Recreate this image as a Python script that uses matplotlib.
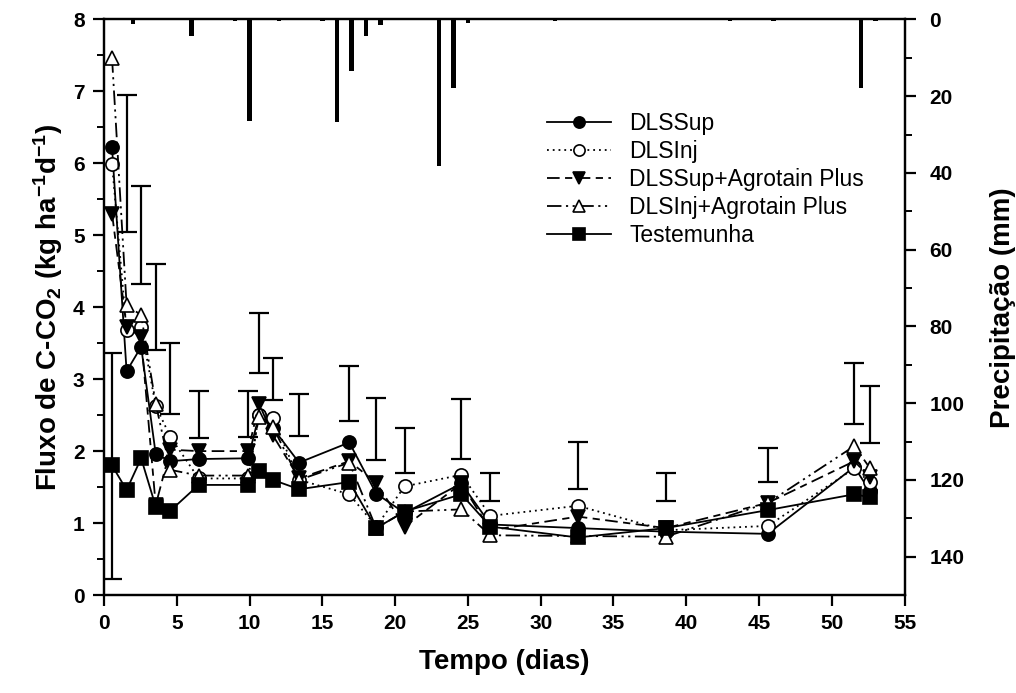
import matplotlib
matplotlib.use("Agg")
import matplotlib.pyplot as plt
import numpy as np

plt.rcParams['font.family'] = ['Liberation Sans', 'DejaVu Sans']
plt.rcParams['mathtext.fontset'] = 'custom'
plt.rcParams['mathtext.rm'] = 'Liberation Sans:bold'
plt.rcParams['mathtext.bf'] = 'Liberation Sans:bold'
plt.rcParams['mathtext.it'] = 'Liberation Sans:bold'

# Sampling days
dias = [0.55, 1.55, 2.55, 3.55, 4.55, 6.5, 9.9, 10.65, 11.6, 13.4,
        16.85, 18.7, 20.65, 24.55, 26.55, 32.55, 38.6, 45.6, 51.55, 52.6]

# C-CO2 flux per treatment (kg ha-1 d-1)
dls_sup = [6.22, 3.11, 3.45, 1.96, 1.86, 1.89, 1.90, 2.50, 2.32, 1.84,
           2.12, 1.41, 1.14, 1.55, 0.98, 0.93, 0.88, 0.85, 1.78, 1.45]
dls_inj = [5.99, 3.68, 3.72, 2.63, 2.20, 1.62, 1.62, 2.50, 2.46, 1.60,
           1.40, 0.95, 1.51, 1.67, 1.10, 1.24, 0.90, 0.96, 1.76, 1.57]
dls_sup_ap = [5.30, 3.73, 3.58, 1.25, 2.02, 2.00, 2.00, 2.66, 2.22, 1.62,
              1.86, 1.56, 0.95, 1.55, 0.90, 1.09, 0.93, 1.28, 1.86, 1.64]
dls_inj_ap = [7.46, 4.03, 3.89, 2.66, 1.74, 1.66, 1.66, 2.48, 2.34, 1.60,
              1.84, 0.93, 1.16, 1.19, 0.83, 0.82, 0.81, 1.28, 2.07, 1.77]
testemunha = [1.80, 1.46, 1.90, 1.23, 1.17, 1.53, 1.53, 1.72, 1.60, 1.47,
              1.57, 0.93, 1.16, 1.40, 0.95, 0.80, 0.93, 1.18, 1.40, 1.36]

# Least significant difference bars (lower and upper ends)
lsd_inf = [0.22, 5.05, 4.32, 3.41, 2.52, 2.18, 2.19, 3.09, 2.71, 2.21,
           2.42, 1.87, 1.69, 1.89, 1.30, 1.47, 1.31, 1.57, 2.38, 2.11]
lsd_sup = [3.37, 6.95, 5.69, 4.60, 3.50, 2.84, 2.84, 3.92, 3.30, 2.79,
           3.18, 2.74, 2.32, 2.72, 1.70, 2.13, 1.69, 2.04, 3.22, 2.90]

# Daily rainfall (mm)
chuva_dias = [2, 6, 9, 10, 12, 15, 16, 17, 18, 19, 23, 24, 25, 31, 43, 46, 52, 53]
chuva_mm = [1.2, 4.3, 0.5, 26.5, 0.3, 0.3, 26.7, 13.5, 4.3, 1.5, 38.2, 18.0,
            0.9, 0.3, 0.3, 0.3, 17.8, 0.5]

fig = plt.figure(figsize=(10.16, 6.93), dpi=100)
ax = fig.add_axes([0.1024, 0.1414, 0.7879, 0.8306])
ax2 = ax.twinx()

# Rainfall bars hanging from the top axis
ax2.bar(chuva_dias, chuva_mm, width=0.3, color='black', align='center')
ax2.set_ylim(150, 0)
ax2.set_yticks(np.arange(0, 141, 20))
ax2.set_yticks(np.arange(10, 150, 20), minor=True)
ax2.set_ylabel('Precipitação (mm)', fontsize=20, fontweight='bold', labelpad=18)

# LSD bars
lo = np.array(lsd_inf)
hi = np.array(lsd_sup)
mid = (lo + hi) / 2
ax.errorbar(dias, mid, yerr=(hi - lo) / 2, fmt='none', ecolor='black',
            elinewidth=1.6, capsize=7, capthick=1.6, zorder=2)

ms = 9.5
series = [
    (dls_sup, 'DLSSup', dict(ls='-', marker='o', mfc='black')),
    (dls_inj, 'DLSInj', dict(ls=(0, (1, 2.2)), marker='o', mfc='white')),
    (dls_sup_ap, 'DLSSup+Agrotain Plus', dict(ls=(0, (7, 3, 4, 3)), marker='v', mfc='black')),
    (dls_inj_ap, 'DLSInj+Agrotain Plus', dict(ls=(0, (8, 2.5, 1.2, 2.5, 1.2, 2.5)), marker='^', mfc='white')),
    (testemunha, 'Testemunha', dict(ls='-', marker='s', mfc='black')),
]
handles = []
for vals, nome, st in series:
    h, = ax.plot(dias, vals, color='black', lw=1.3, ms=ms, mec='black',
                 mew=1.2, label=nome, zorder=3, **st)
    handles.append(h)

ax.set_xlim(0, 55)
ax.set_ylim(0, 8)
ax.set_xticks(np.arange(0, 56, 5))
ax.set_yticks(np.arange(0, 9, 1))
ax.set_yticks(np.arange(0.5, 8, 1), minor=True)
ax.set_xlabel('Tempo (dias)', fontsize=20, fontweight='bold', labelpad=11)
ax.set_ylabel(r'Fluxo de C-CO$_{2}$ (kg ha$^{-1}$d$^{-1}$)', fontsize=20,
              fontweight='bold', labelpad=6)

for a in (ax, ax2):
    for s in a.spines.values():
        s.set_linewidth(1.6)
    a.tick_params(which='major', direction='out', length=8, width=1.6,
                  labelsize=15, pad=6)
    a.tick_params(which='minor', direction='out', length=5, width=1.4)
    for lab in a.get_xticklabels() + a.get_yticklabels():
        lab.set_fontweight('bold')
ax.tick_params(axis='x', top=False)
ax2.tick_params(axis='y', which='major', pad=10)

ax2.legend(handles=handles, loc='upper left', bbox_to_anchor=(0.527, 0.875),
           frameon=False, fontsize=16.5, handlelength=2.8, handletextpad=0.8,
           labelspacing=0.22, markerscale=0.85)

fig.savefig('out.png', dpi=100)
